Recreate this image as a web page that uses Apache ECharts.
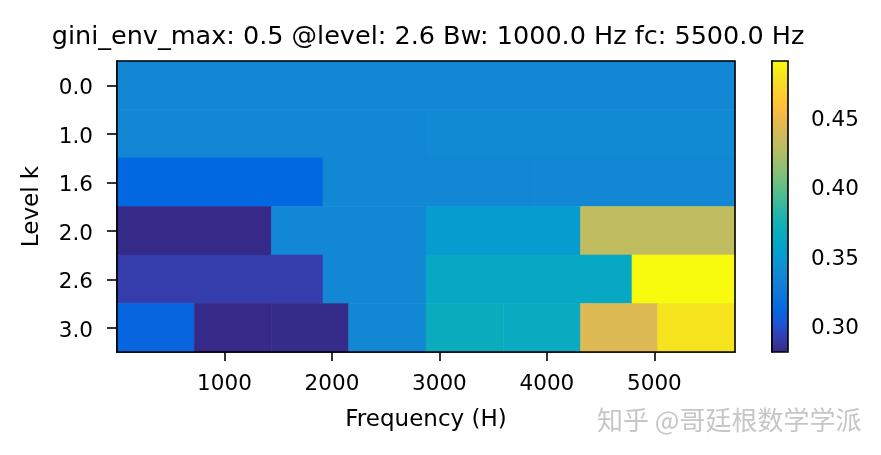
<!DOCTYPE html>
<html>
<head>
<meta charset="utf-8">
<script src="https://cdn.jsdelivr.net/npm/echarts@6/dist/echarts.min.js"></script>
<style>
html, body { margin: 0; padding: 0; background: #fff; }
#chart { width: 881px; height: 455px; }
</style>
</head>
<body>
<div id="chart"></div>
<script>
// ---- data ----
const levels = ['0.0', '1.0', '1.6', '2.0', '2.6', '3.0'];
const gini_L0  = [0.3355];
const gini_L1  = [0.3355, 0.3375];
const gini_L16 = [0.3105, 0.3360, 0.3360];
const gini_L2  = [0.2805, 0.3355, 0.3505, 0.4305];
const gini_L26 = [0.2905, 0.2905, 0.3355, 0.3620, 0.3620, 0.4905];
const gini_L3  = [0.3090, 0.2805, 0.2810, 0.3355, 0.3665, 0.3645, 0.4420, 0.4805];
const freqAxisMax = 5750;
const freqTicks = [1000, 2000, 3000, 4000, 5000];
const cbarTicks = [0.30, 0.35, 0.40, 0.45];
const titleText = 'gini_env_max: 0.5 @level: 2.6 Bw: 1000.0 Hz fc: 5500.0 Hz';

const rows = [gini_L0, gini_L1, gini_L16, gini_L2, gini_L26, gini_L3];
const cells = [];
rows.forEach((vals, r) => {
  const n = vals.length;
  vals.forEach((v, i) => {
    cells.push([i * freqAxisMax / n, (i + 1) * freqAxisMax / n, r, v]);
  });
});
const allVals = rows.flat();
const vmin = Math.min(...allVals);
const vmax = Math.max(...allVals);

const parula = ['#352a87','#353dad','#2053d4','#0268e1','#0d75dc','#1481d6','#108ed2','#079ccf',
  '#06a7c6','#0faeb9','#25b5a9','#42bb98','#65be86','#87bf77','#a5be6b','#c0bc60',
  '#d9ba56','#f1b94a','#ffc337','#fad32a','#f5e41d','#f9fb0e'];

const FONT = 'DejaVu Sans';
const lowered = { t: { fontFamily: FONT, fontSize: 21.5, color: '#000', padding: [7, 0, 0, 0] } };
const chart = echarts.init(document.getElementById('chart'), null, { renderer: 'canvas' });
chart.setOption({
  backgroundColor: '#ffffff',
  animation: false,
  title: {
    text: titleText,
    left: 423, top: 19, textAlign: 'center',
    textStyle: { fontFamily: FONT, fontSize: 25.5, fontWeight: 'normal', color: '#000' }
  },
  grid: [
    { left: 117, top: 61, width: 618, height: 291, show: true, z: 10,
      backgroundColor: 'transparent', borderColor: '#000', borderWidth: 1.6 },
    { left: 772, top: 61, width: 16, height: 291, show: true, z: 10,
      backgroundColor: 'transparent', borderColor: '#000', borderWidth: 1.6 }
  ],
  xAxis: [
    { type: 'value', gridIndex: 0, min: 0, max: freqAxisMax,
      name: 'Frequency (H)', nameLocation: 'middle', nameGap: 57,
      nameTextStyle: { fontFamily: FONT, fontSize: 23, color: '#000' },
      axisLine: { show: true, lineStyle: { color: '#000', width: 1.6 } },
      axisTick: { show: true, length: 9, customValues: freqTicks, lineStyle: { color: '#000', width: 1.6 } },
      axisLabel: { customValues: freqTicks, margin: 21, fontFamily: FONT, fontSize: 21.5, color: '#000',
        formatter: v => String(v) },
      splitLine: { show: false } },
    { type: 'value', gridIndex: 1, show: false, min: 0, max: 1 }
  ],
  yAxis: [
    { type: 'category', gridIndex: 0, data: levels, inverse: true,
      name: 'Level k', nameLocation: 'middle', nameGap: 73, nameRotate: 90,
      nameTextStyle: { fontFamily: FONT, fontSize: 23, color: '#000' },
      axisLine: { show: true, lineStyle: { color: '#000', width: 1.6 } },
      axisTick: { show: true, alignWithLabel: true, length: 10, lineStyle: { color: '#000', width: 1.6 } },
      axisLabel: { margin: 24, fontFamily: FONT, fontSize: 21.5, color: '#000',
        formatter: v => '{t|' + v + '}', rich: lowered },
      splitLine: { show: false } },
    { type: 'value', gridIndex: 1, position: 'right', min: vmin, max: vmax,
      axisLine: { show: true, lineStyle: { color: '#000', width: 1.6 } },
      axisTick: { show: true, length: 10, customValues: cbarTicks, lineStyle: { color: '#000', width: 1.6 } },
      axisLabel: { customValues: cbarTicks, margin: 23, fontFamily: FONT, fontSize: 21.5, color: '#000',
        formatter: v => '{t|' + v.toFixed(2) + '}', rich: lowered },
      splitLine: { show: false } }
  ],
  visualMap: {
    type: 'continuous', min: vmin, max: vmax, dimension: 3, seriesIndex: 0,
    orient: 'vertical', left: 772, top: 61, itemWidth: 16, itemHeight: 291, padding: 0,
    calculable: false, realtime: false, hoverLink: false,
    inRange: { color: parula }
  },
  graphic: [
    { type: 'text', left: 597, top: 407, z: 100,
      style: { text: '知乎 @哥廷根数学学派', font: '26px "Noto Sans CJK SC"', fill: '#c6c6c6' } }
  ],
  series: [{
    type: 'custom', xAxisIndex: 0, yAxisIndex: 0, z: 1,
    dimensions: ['f0', 'f1', 'level', 'gini'],
    encode: { x: [0, 1], y: 2 },
    data: cells,
    renderItem: function (params, api) {
      const p0 = api.coord([api.value(0), api.value(2)]);
      const p1 = api.coord([api.value(1), api.value(2)]);
      const h = api.size([0, 1])[1];
      const c = api.visual('color');
      return { type: 'rect',
        shape: { x: p0[0], y: p0[1] - h / 2, width: p1[0] - p0[0], height: h },
        style: { fill: c, stroke: c, lineWidth: 0.6 } };
    }
  }]
});
</script>
</body>
</html>
